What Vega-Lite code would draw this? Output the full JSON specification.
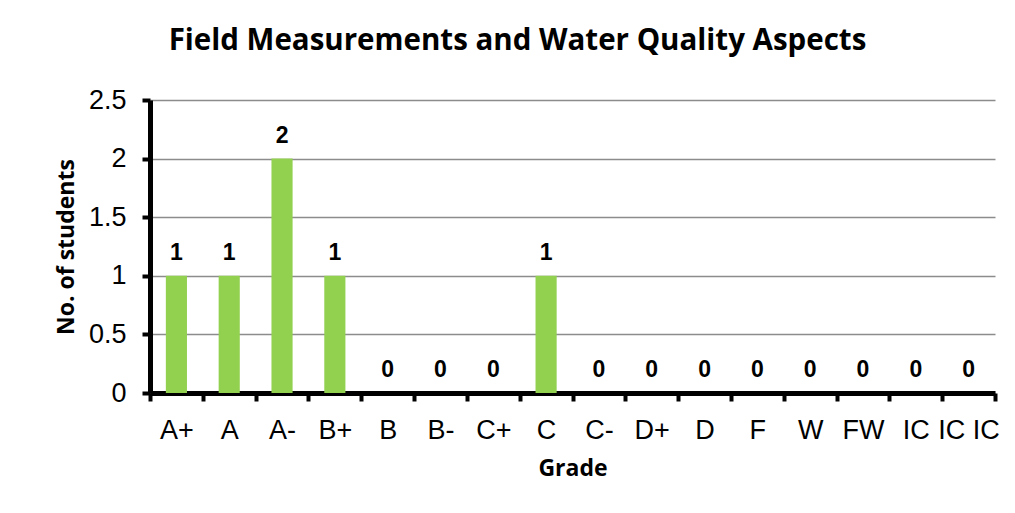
{
  "$schema": "https://vega.github.io/schema/vega-lite/v6.json",
  "autosize": {"type": "none"},
  "width": 845,
  "height": 293,
  "padding": {"left": 150, "top": 100, "right": 20, "bottom": 120},
  "background": "white",
  "config": {"view": {"stroke": null}},
  "title": {
    "text": "Field Measurements and Water Quality Aspects",
    "font": "Open Sans",
    "fontWeight": "bold",
    "fontSize": 29.5,
    "color": "black",
    "anchor": "middle",
    "dx": -55,
    "offset": 30
  },
  "data": {
    "values": [
      {"grade": "A+", "count": 1},
      {"grade": "A", "count": 1},
      {"grade": "A-", "count": 2},
      {"grade": "B+", "count": 1},
      {"grade": "B", "count": 0},
      {"grade": "B-", "count": 0},
      {"grade": "C+", "count": 0},
      {"grade": "C", "count": 1},
      {"grade": "C-", "count": 0},
      {"grade": "D+", "count": 0},
      {"grade": "D", "count": 0},
      {"grade": "F", "count": 0},
      {"grade": "W", "count": 0},
      {"grade": "FW", "count": 0},
      {"grade": "IC", "count": 0},
      {"grade": "IC IC", "count": 0}
    ]
  },
  "encoding": {
    "x": {
      "field": "grade",
      "type": "nominal",
      "sort": null,
      "scale": {"paddingInner": 0, "paddingOuter": 0},
      "axis": {
        "title": "Grade",
        "titleFont": "Open Sans",
        "titleFontWeight": "bold",
        "titleFontSize": 23,
        "titleColor": "black",
        "titlePadding": 14,
        "labelFont": "Liberation Sans",
        "labelFontSize": 27,
        "labelColor": "black",
        "labelAngle": 0,
        "labelPadding": 16,
        "labelOverlap": false,
        "domainColor": "black",
        "domainWidth": 5,
        "tickColor": "black",
        "tickWidth": 4,
        "tickSize": 8,
        "tickBand": "extent",
        "grid": false
      }
    },
    "y": {
      "field": "count",
      "type": "quantitative",
      "scale": {"domain": [0, 2.5]},
      "axis": {
        "title": "No. of students",
        "titleFont": "Open Sans",
        "titleFontWeight": "bold",
        "titleFontSize": 23,
        "titleColor": "black",
        "titlePadding": 10,
        "values": [0, 0.5, 1, 1.5, 2, 2.5],
        "format": "~g",
        "labelFont": "Liberation Sans",
        "labelFontSize": 27,
        "labelColor": "black",
        "labelPadding": 16,
        "domainColor": "black",
        "domainWidth": 5,
        "tickColor": "black",
        "tickWidth": 4,
        "tickSize": 8,
        "grid": true,
        "gridColor": "#8c8c8c",
        "gridWidth": 1.5
      }
    }
  },
  "layer": [
    {"mark": {"type": "bar", "color": "#92D050", "width": {"band": 0.4}}},
    {
      "mark": {
        "type": "text",
        "font": "Liberation Sans",
        "fontWeight": "bold",
        "fontSize": 23,
        "color": "black",
        "baseline": "alphabetic",
        "dy": -16
      },
      "encoding": {"text": {"field": "count", "type": "quantitative"}}
    }
  ]
}
